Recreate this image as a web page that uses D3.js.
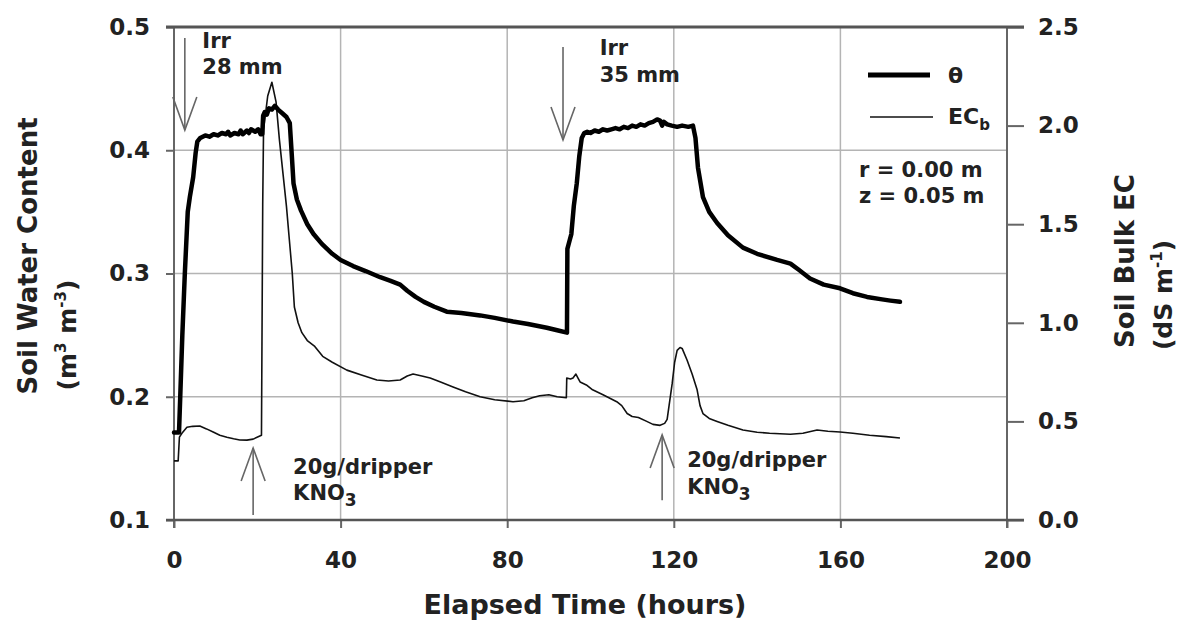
<!DOCTYPE html>
<html>
<head>
<meta charset="utf-8">
<script src="https://cdn.jsdelivr.net/npm/d3@7"></script>
<style>
  html,body{margin:0;padding:0;background:#fff;}
  text{font-family:"DejaVu Sans",sans-serif;font-weight:bold;fill:#222;}
</style>
</head>
<body>
<svg id="chart" width="1179" height="623"></svg>
<script>
// ---- data ----
const thetaTime = [0,1.2,1.5,2.0,2.6,3.3,3.8,4.6,5.2,5.6,6.3,
  7.5,8.5,9.5,10.5,11.5,12.5,13,13.5,14.5,15.5,16,16.5,17.5,18,18.5,19.5,20.2,20.8,21.2,
  21.4,21.8,22.3,22.8,23.5,24.2,25,26,27,27.8,28.3,28.7,29.5,30.5,32,33.5,35.5,38,40,43,46,49.5,52,54.3,56,58,60,62.5,65.5,69,73.5,77,81.4,85,89.5,92,94.35,
  94.45,95.0,95.4,96.0,96.7,97.3,97.9,98.5,99.2,
  100,101,102,103,104,105,106,107,108,109,110,111,112,113,114,115,116,116.7,117.2,117.6,118.4,119.5,120.8,122,123.5,124.6,
  125.2,125.8,127.0,128.5,130.4,133,136.6,140,144.8,148,150,152.7,156,159.9,163,166.4,170,172,174.3];
const thetaValue = [0.171,0.171,0.20,0.25,0.30,0.35,0.362,0.378,0.398,0.407,0.410,
  0.412,0.411,0.413,0.412,0.414,0.413,0.415,0.412,0.414,0.413,0.416,0.413,0.416,0.414,0.417,0.415,0.417,0.413,0.413,
  0.428,0.431,0.429,0.434,0.433,0.436,0.433,0.430,0.427,0.422,0.395,0.373,0.360,0.351,0.340,0.332,0.324,0.316,0.311,0.306,0.302,0.297,0.294,0.291,0.286,0.281,0.277,0.273,0.269,0.268,0.266,0.264,0.261,0.259,0.256,0.254,0.252,
  0.320,0.327,0.332,0.355,0.373,0.395,0.410,0.414,0.415,
  0.414,0.416,0.415,0.417,0.416,0.417,0.418,0.417,0.419,0.418,0.420,0.419,0.421,0.420,0.422,0.423,0.425,0.424,0.420,0.423,0.421,0.420,0.419,0.420,0.419,0.420,
  0.410,0.386,0.362,0.350,0.341,0.331,0.321,0.316,0.311,0.308,0.303,0.296,0.291,0.288,0.284,0.281,0.279,0.278,0.277];

const ecTime = [0,1.0,1.3,1.9,3.1,4.5,6.2,7.8,9.4,11,12.7,14.3,15.8,17.5,19,20.6,21.0,21.3,21.5,22.5,23.5,24.5,25.3,26.2,27.0,27.7,28.4,28.9,29.8,30.7,32,33.8,35.7,38,41.5,45,48.7,51.5,54.3,56,57.4,59.5,61.5,64,67,70,73.5,77,81.4,84,86,87.8,90,92,94.2,
  94.3,95.2,95.8,96.5,97,97.5,99,100.5,103,106.3,107.5,108.8,110,111.5,113.5,115,116.7,117.8,118.4,119.0,119.6,120.2,120.8,121.5,122,123.2,124.4,125.6,126.3,127,128.5,130.4,133,136.6,140,143,148,151,154.4,157,159.9,163,167,171,174.3];
const ecValue = [0.30,0.30,0.42,0.44,0.47,0.475,0.477,0.462,0.446,0.43,0.42,0.412,0.406,0.405,0.41,0.426,0.43,1.6,1.98,2.15,2.22,2.12,1.93,1.75,1.59,1.42,1.25,1.08,1.0,0.95,0.91,0.88,0.83,0.80,0.76,0.735,0.71,0.705,0.71,0.73,0.74,0.73,0.72,0.70,0.675,0.65,0.625,0.61,0.60,0.605,0.62,0.63,0.635,0.625,0.62,
  0.72,0.715,0.72,0.74,0.72,0.70,0.685,0.66,0.635,0.60,0.58,0.54,0.525,0.52,0.50,0.485,0.48,0.49,0.51,0.60,0.69,0.80,0.86,0.875,0.87,0.81,0.74,0.66,0.58,0.54,0.515,0.50,0.48,0.456,0.445,0.44,0.435,0.44,0.456,0.45,0.446,0.44,0.43,0.423,0.416];

const xTicks = [0,40,80,120,160,200];
const yLeftTicks = [0.1,0.2,0.3,0.4,0.5];
const yRightTicks = [0.0,0.5,1.0,1.5,2.0,2.5];
const xGrid = [40,80,120,160];
const yGrid = [0.2,0.3,0.4];

// ---- layout ----
const svg = d3.select("#chart");
const L = 174, R = 1007, T = 27, B = 520;
const x = d3.scaleLinear().domain([0,200]).range([L,R]);
const yL = d3.scaleLinear().domain([0.1,0.5]).range([B,T]);
const yR = d3.scaleLinear().domain([0,2.5]).range([B,T]);

// grid
const g = svg.append("g");
g.selectAll(".hg").data(yGrid).enter().append("line")
  .attr("x1",L).attr("x2",R).attr("y1",d=>yL(d)).attr("y2",d=>yL(d))
  .attr("stroke","#b4b4b4").attr("stroke-width",1.5);
g.selectAll(".vg").data(xGrid).enter().append("line")
  .attr("y1",T).attr("y2",B).attr("x1",d=>x(d)).attr("x2",d=>x(d))
  .attr("stroke","#b4b4b4").attr("stroke-width",1.5);

// axes
const axColor = "#666";
function styleAxis(sel){
  sel.select(".domain").remove();
  sel.selectAll(".tick line").attr("stroke",axColor).attr("stroke-width",2);
  sel.selectAll(".tick text").attr("font-family","DejaVu Sans").attr("font-weight","bold").attr("font-size",23).attr("fill","#222");
}
svg.append("g").attr("transform",`translate(${L},0)`)
  .call(d3.axisLeft(yL).tickValues(yLeftTicks).tickFormat(d3.format(".1f")).tickSize(8).tickPadding(16))
  .call(styleAxis);
svg.append("g").attr("transform",`translate(${R},0)`)
  .call(d3.axisRight(yR).tickValues(yRightTicks).tickFormat(d3.format(".1f")).tickSize(17).tickPadding(14))
  .call(styleAxis);
const xa = svg.append("g").attr("transform",`translate(0,${B})`)
  .call(d3.axisBottom(x).tickValues(xTicks).tickFormat(d3.format("d")).tickSize(8).tickPadding(24))
  .call(styleAxis);

// frame lines
svg.append("line").attr("x1",L).attr("x2",L).attr("y1",T).attr("y2",B+8).attr("stroke",axColor).attr("stroke-width",2);
svg.append("line").attr("x1",R).attr("x2",R).attr("y1",T).attr("y2",B+8).attr("stroke",axColor).attr("stroke-width",2);
svg.append("line").attr("x1",L-8).attr("x2",R+17).attr("y1",B).attr("y2",B).attr("stroke","#555").attr("stroke-width",2.5);
svg.append("line").attr("x1",L-8).attr("x2",R+17).attr("y1",T).attr("y2",T).attr("stroke","#555").attr("stroke-width",3);

// series
const ecLine = d3.line().x((d,i)=>x(ecTime[i])).y(d=>yR(d));
svg.append("path").datum(ecValue).attr("d",ecLine).attr("fill","none")
  .attr("stroke","#111").attr("stroke-width",1.6).attr("stroke-linejoin","round");
const thLine = d3.line().x((d,i)=>x(thetaTime[i])).y(d=>yL(d));
svg.append("path").datum(thetaValue).attr("d",thLine).attr("fill","none")
  .attr("stroke","#000").attr("stroke-width",4.5).attr("stroke-linejoin","round").attr("stroke-linecap","round");

// annotations: arrows (data coordinates)
const arrows = [
  {t:2.6, from:0.491, to:0.4164},
  {t:93.4, from:0.4838, to:0.4083},
  {t:19.0, from:0.104, to:0.1584},
  {t:117.2, from:0.116, to:0.169}
];
arrows.forEach(a=>{
  const ax = x(a.t), y1 = yL(a.from), y2 = yL(a.to);
  const dir = y2 > y1 ? 1 : -1;
  const ag = svg.append("g").attr("stroke","#666").attr("stroke-width",1.6).attr("fill","none");
  ag.append("line").attr("x1",ax).attr("x2",ax).attr("y1",y1).attr("y2",y2);
  ag.append("path").attr("d",`M${ax-12},${y2-dir*33} L${ax},${y2} L${ax+12},${y2-dir*33}`);
});

// Irr labels
svg.append("text").attr("x",x(6.8)).attr("y",48).attr("font-size",21).text("Irr");
svg.append("text").attr("x",x(6.8)).attr("y",74).attr("font-size",21).text("28 mm");
svg.append("text").attr("x",x(102.2)).attr("y",55).attr("font-size",21).text("Irr");
svg.append("text").attr("x",x(102.2)).attr("y",82).attr("font-size",21).text("35 mm");

// KNO3 labels
function kno(t, y1, y2){
  svg.append("text").attr("x",x(t)).attr("y",y1).attr("font-size",21).text("20g/dripper");
  const k = svg.append("text").attr("x",x(t)).attr("y",y2).attr("font-size",21);
  k.append("tspan").text("KNO");
  k.append("tspan").attr("dy",6).attr("font-size",17).text("3");
}
kno(28.6, 474, 500);
kno(123.2, 467, 494);

// legend
svg.append("line").attr("x1",868).attr("x2",930).attr("y1",75).attr("y2",75).attr("stroke","#000").attr("stroke-width",5);
svg.append("text").attr("x",948).attr("y",83).attr("font-size",22).text("θ");
svg.append("line").attr("x1",870).attr("x2",933).attr("y1",117).attr("y2",117).attr("stroke","#111").attr("stroke-width",1.6);
const ecl = svg.append("text").attr("x",948).attr("y",124).attr("font-size",22);
ecl.append("tspan").text("EC");
ecl.append("tspan").attr("dy",6).attr("font-size",15).text("b");

svg.append("text").attr("x",859).attr("y",177).attr("font-size",21).text("r = 0.00 m");
svg.append("text").attr("x",859).attr("y",203).attr("font-size",21).text("z = 0.05 m");

// axis titles
svg.append("text").attr("x",585).attr("y",614).attr("text-anchor","middle").attr("font-size",27).text("Elapsed Time (hours)");

svg.append("text").attr("transform","translate(37,256) rotate(-90)").attr("text-anchor","middle").attr("font-size",26).text("Soil Water Content");
const lu = svg.append("text").attr("transform","translate(76,335) rotate(-90)").attr("text-anchor","middle").attr("font-size",25);
lu.append("tspan").text("(m");
lu.append("tspan").attr("dy",-10).attr("font-size",15).text("3");
lu.append("tspan").attr("dy",10).text(" m");
lu.append("tspan").attr("dy",-10).attr("font-size",15).text("-3");
lu.append("tspan").attr("dy",10).text(")");

svg.append("text").attr("transform","translate(1134,261) rotate(-90)").attr("text-anchor","middle").attr("font-size",26).text("Soil Bulk EC");
const ru = svg.append("text").attr("transform","translate(1172,295) rotate(-90)").attr("text-anchor","middle").attr("font-size",25);
ru.append("tspan").text("(dS m");
ru.append("tspan").attr("dy",-10).attr("font-size",15).text("-1");
ru.append("tspan").attr("dy",10).text(")");
</script>
</body>
</html>
